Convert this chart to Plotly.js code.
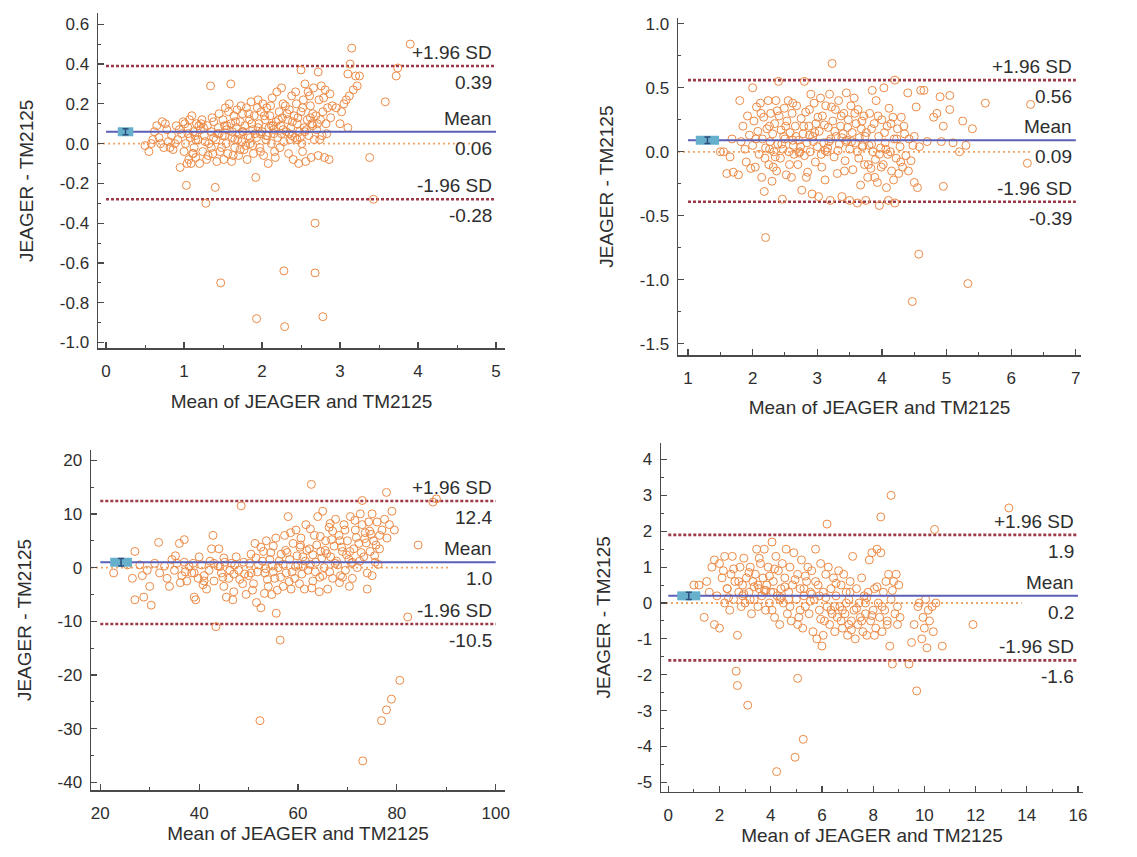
<!DOCTYPE html>
<html>
<head>
<meta charset="utf-8">
<script src="https://cdn.plot.ly/plotly-3.0.1.min.js"></script>
<style>html,body{margin:0;padding:0;background:#fff}#chart{width:1137px;height:857px}</style>
</head>
<body>
<div id="chart"></div>
<script>
// ---------- Data ----------
const xTitle = 'Mean of JEAGER and TM2125';
const yTitle = 'JEAGER - TM2125';
const limitNames = ['+1.96 SD', 'Mean', '-1.96 SD'];

// Panel 1
const p1x = [0.50,0.55,0.58,0.62,0.65,0.68,0.72,0.74,0.78,0.80,0.84,0.86,0.90,0.92,0.95,0.97,0.99,1.00,1.02,1.03,1.05,1.06,1.08,1.09,1.10,1.12,1.13,1.15,1.16,1.18,1.20,1.21,1.23,1.24,1.26,1.28,1.29,1.30,1.32,1.34,1.35,1.37,1.38,1.40,1.41,1.42,1.44,1.45,1.47,1.48,1.49,1.50,1.51,1.53,1.54,1.55,1.56,1.58,1.60,1.60,1.61,1.62,1.64,1.65,1.67,1.68,1.70,1.71,1.72,1.74,1.75,1.77,1.78,1.80,1.81,1.82,1.84,1.85,1.86,1.88,1.89,1.90,1.92,1.93,1.93,1.95,1.96,1.97,1.99,2.00,2.01,2.02,2.04,2.05,2.06,2.08,2.09,2.10,2.12,2.13,2.15,2.16,2.18,2.19,2.20,2.22,2.23,2.24,2.25,2.26,2.28,2.29,2.28,2.30,2.31,2.33,2.34,2.35,2.37,2.38,2.40,2.41,2.42,2.44,2.45,2.47,2.48,2.50,2.50,2.51,2.53,2.54,2.55,2.56,2.58,2.59,2.60,2.62,2.63,2.64,2.66,2.67,2.68,2.68,2.69,2.70,2.72,2.72,2.73,2.75,2.76,2.77,2.78,2.78,2.80,2.81,2.82,2.84,2.86,2.88,2.90,2.95,3.00,3.02,3.05,3.08,3.10,3.10,3.12,3.13,3.15,3.17,3.20,3.22,3.25,3.38,3.43,3.58,3.72,3.74,3.90,
  1.05,1.15,1.25,1.35,1.45,1.55,1.65,1.75,1.85,1.95,2.05,2.15,2.35,2.45,2.55,2.65,1.12,1.38,1.62,1.88,2.12,2.38,2.62,0.88,1.22,1.52,1.72,1.98,2.27,2.52,
  1.07,1.11,1.14,1.19,1.27,1.31,1.36,1.43,1.46,1.52,1.57,1.63,1.66,1.69,1.73,1.76,1.79,1.83,1.87,1.91,1.94,1.98,2.03,2.07,2.11,2.14,2.17,2.21,2.25,2.27,2.32,2.36,2.39,2.43,2.46,2.49,2.52,2.57,2.61,2.65,2.71,2.74,2.79,2.83,2.87,0.76,0.82,0.94,1.01,1.04,0.70,0.60];
const p1y = [-0.01,-0.04,0.00,0.06,0.09,0.03,0.11,-0.02,0.07,0.01,0.04,-0.03,0.09,0.02,-0.12,0.05,0.11,-0.04,0.00,-0.21,0.08,-0.08,0.03,-0.10,0.14,0.06,-0.02,-0.07,0.10,0.02,-0.10,0.07,0.12,-0.04,0.04,-0.30,-0.08,0.09,0.00,0.29,0.06,-0.05,0.11,-0.22,0.02,-0.09,0.08,0.15,-0.70,-0.02,0.04,0.12,-0.08,0.18,0.00,0.07,-0.05,0.20,0.30,0.10,-0.09,0.03,0.14,-0.02,0.08,0.17,-0.06,0.05,0.11,0.01,0.15,-0.03,0.09,0.18,-0.08,0.04,0.12,0.00,0.21,0.07,-0.05,0.14,-0.17,-0.88,0.03,0.22,0.10,-0.02,0.16,0.06,0.20,-0.06,0.12,0.02,0.18,-0.10,0.08,0.14,0.00,0.23,0.05,-0.04,0.11,0.26,0.03,0.16,-0.02,0.09,0.28,0.13,-0.64,-0.92,0.01,0.19,0.06,0.12,-0.05,0.17,0.08,0.24,-0.08,0.14,0.03,0.20,0.10,-0.10,0.06,0.37,0.16,0.00,0.22,0.08,0.30,-0.09,0.12,0.26,0.04,0.19,-0.07,0.10,0.28,0.02,-0.40,-0.65,0.14,0.07,0.36,-0.06,0.22,0.12,0.29,0.04,-0.87,0.16,-0.07,0.27,0.10,0.18,-0.08,0.13,0.19,0.18,0.10,0.16,0.20,0.22,0.08,0.35,0.24,0.40,0.48,0.27,0.34,0.29,0.34,-0.07,-0.28,0.21,0.34,0.38,0.50,
  0.05,0.02,0.08,-0.02,0.05,0.09,0.02,0.06,0.03,0.08,0.04,0.07,0.05,0.02,0.06,0.09,-0.05,0.03,0.06,-0.01,0.09,0.04,0.13,0.00,0.10,0.04,-0.03,0.05,0.07,-0.04,
  0.12,-0.05,0.04,0.09,0.01,-0.06,0.13,0.05,-0.04,0.09,0.16,-0.06,0.11,0.02,0.19,0.06,-0.01,0.15,0.10,0.05,0.18,-0.04,0.14,0.04,0.19,0.09,-0.07,0.12,0.05,0.20,0.15,0.02,0.11,0.26,0.13,0.03,0.18,0.07,0.24,0.15,0.10,0.02,0.23,0.05,0.25,0.10,-0.02,0.07,0.10,-0.10,0.00,0.02];
const p1Limits = [0.39, 0.06, -0.28];
const p1Labels = ['0.39', '0.06', '-0.28'];
const p1YTicks = [-1.0, -0.8, -0.6, -0.4, -0.2, 0.0, 0.2, 0.4, 0.6];
const p1YTickText = ['-1.0', '-0.8', '-0.6', '-0.4', '-0.2', '0.0', '0.2', '0.4', '0.6'];

// Panel 2
const p2x = [1.50,1.55,1.60,1.65,1.68,1.70,1.78,1.80,1.82,1.85,1.88,1.90,1.92,1.95,1.97,2.00,2.00,2.02,2.04,2.06,2.08,2.10,2.12,2.14,2.15,2.17,2.18,2.20,2.20,2.22,2.24,2.25,2.27,2.28,2.30,2.31,2.33,2.34,2.36,2.37,2.39,2.40,2.41,2.43,2.44,2.46,2.47,2.49,2.50,2.52,2.53,2.55,2.56,2.58,2.60,2.61,2.63,2.64,2.66,2.68,2.70,2.71,2.73,2.75,2.76,2.78,2.80,2.80,2.82,2.84,2.85,2.87,2.89,2.90,2.92,2.93,2.95,2.97,2.98,3.00,3.02,3.03,3.05,3.07,3.08,3.10,3.12,3.13,3.15,3.17,3.19,3.20,3.21,3.23,3.24,3.26,3.28,3.29,3.31,3.33,3.34,3.36,3.38,3.40,3.41,3.43,3.45,3.46,3.48,3.50,3.50,3.52,3.54,3.55,3.57,3.59,3.60,3.62,3.63,3.65,3.67,3.68,3.70,3.72,3.73,3.75,3.76,3.78,3.80,3.81,3.83,3.85,3.86,3.88,3.90,3.91,3.93,3.95,3.96,3.98,4.00,4.02,4.03,4.05,4.07,4.08,4.10,4.11,4.13,4.15,4.17,4.19,4.20,4.20,4.22,4.24,4.26,4.28,4.30,4.32,4.35,4.37,4.40,4.42,4.45,4.47,4.50,4.50,4.53,4.55,4.57,4.58,4.60,4.65,4.70,4.80,4.85,4.90,4.92,4.95,4.95,5.05,5.05,5.10,5.20,5.25,5.30,5.33,5.40,5.60,6.25,6.30,
  2.26,2.48,2.72,2.94,3.16,3.38,3.62,3.84,4.06,2.35,2.62,2.88,3.12,3.44,3.70,3.96,
  2.05,2.13,2.19,2.26,2.32,2.38,2.45,2.51,2.57,2.62,2.67,2.74,2.79,2.83,2.88,2.96,3.01,3.06,3.11,3.18,3.22,3.27,3.32,3.37,3.42,3.47,3.53,3.58,3.64,3.69,3.74,3.79,3.84,3.89,3.94,3.99,4.04,4.09,4.14,4.18,4.23,4.29,4.34,4.41,4.48];
const p2y = [0.00,0.00,-0.17,-0.04,0.10,-0.16,-0.18,0.40,0.08,0.20,0.02,-0.08,0.28,0.13,-0.13,0.50,0.05,0.24,-0.12,0.35,0.16,-0.02,0.38,-0.20,0.10,0.27,-0.31,-0.67,0.03,0.18,0.40,-0.10,0.08,0.30,-0.23,0.14,0.00,0.22,0.40,-0.15,0.06,0.55,0.28,-0.05,0.17,-0.37,0.02,0.34,0.10,-0.18,0.24,0.40,0.00,0.15,-0.20,0.30,0.05,-0.02,0.20,0.36,-0.10,0.09,0.00,0.26,-0.30,0.14,0.55,-0.03,0.31,0.07,-0.16,0.20,0.00,0.45,-0.33,0.12,0.38,-0.08,0.22,0.04,-0.35,0.16,0.42,-0.12,0.28,0.07,-0.22,0.36,0.00,0.19,0.45,-0.38,0.10,0.69,0.24,-0.04,0.33,0.12,-0.17,0.40,0.06,0.20,-0.35,0.14,0.30,-0.07,0.46,0.09,0.25,-0.38,0.02,0.36,0.15,-0.14,0.42,0.07,0.22,-0.40,0.33,0.11,-0.26,0.18,0.04,0.28,-0.10,-0.38,0.15,-0.20,0.05,0.30,-0.13,0.48,0.00,0.22,-0.06,0.40,-0.24,0.12,-0.42,0.03,0.25,-0.10,0.50,0.07,-0.28,0.20,-0.38,0.34,0.00,-0.15,0.27,0.10,0.56,-0.40,-0.05,0.18,-0.17,0.04,0.27,-0.12,0.14,-0.03,0.46,0.10,-0.07,-1.17,0.12,-0.24,0.35,-0.28,-0.80,0.04,0.48,0.48,0.08,0.27,0.30,0.43,0.08,0.20,-0.27,0.44,0.33,0.07,0.00,0.24,0.05,-1.03,0.18,0.38,-0.09,0.37,
  0.02,0.12,-0.01,0.08,0.03,0.11,0.00,0.06,0.02,-0.04,0.09,0.13,0.01,0.08,0.05,-0.02,
  0.10,0.30,-0.05,0.20,-0.12,0.32,0.06,0.20,-0.10,0.38,0.12,0.04,0.20,-0.20,0.33,0.15,0.27,-0.02,0.21,0.08,0.35,0.16,0.01,0.28,-0.15,0.19,0.08,0.30,-0.05,0.24,0.12,-0.10,0.18,-0.20,0.28,-0.12,0.15,-0.02,0.22,-0.22,0.10,-0.08,0.20,-0.15,0.05];
const p2Limits = [0.56, 0.09, -0.39];
const p2Labels = ['0.56', '0.09', '-0.39'];
const p2YTicks = [-1.5, -1.0, -0.5, 0.0, 0.5, 1.0];
const p2YTickText = ['-1.5', '-1.0', '-0.5', '0.0', '0.5', '1.0'];

// Panel 3
const p3x = [22.7,25.5,26.5,27.0,27.0,28.0,28.5,28.8,29.5,30.0,30.3,31.0,31.8,32.0,33.0,33.5,34.0,34.5,35.0,35.5,36.0,36.5,37.0,37.5,38.0,38.5,39.0,39.3,39.8,40.0,40.5,41.0,41.5,42.0,42.5,42.8,43.0,43.4,43.8,44.0,44.5,45.0,45.5,46.0,46.5,47.0,47.5,48.0,48.5,48.8,49.0,49.5,50.0,50.5,51.0,51.3,51.6,52.0,52.3,52.5,53.0,53.3,53.6,54.0,54.3,54.7,55.0,55.3,55.6,56.0,56.4,56.6,57.0,57.3,57.6,58.0,58.3,58.6,59.0,59.3,59.6,60.0,60.3,60.6,61.0,61.3,61.6,62.0,62.3,62.7,63.0,63.3,63.6,64.0,64.3,64.6,65.0,65.3,65.6,66.0,66.3,66.6,67.0,67.3,67.6,68.0,68.3,68.6,69.0,69.3,69.6,70.0,70.3,70.6,71.0,71.3,71.6,72.0,72.3,72.6,73.0,73.1,73.3,73.6,74.0,74.0,74.3,74.6,75.0,75.0,75.3,75.6,76.0,76.5,76.9,77.0,77.5,77.9,77.9,78.0,78.5,78.9,79.0,79.5,80.6,82.2,84.3,87.3,88.0,
  44.2,45.2,46.2,47.2,49.2,50.2,51.8,52.8,53.8,54.8,56.2,57.8,58.8,59.8,60.8,61.8,62.5,63.8,64.8,65.8,66.8,67.8,68.8,69.8,70.8,71.8,72.8,73.8,74.8,75.8,76.2,70.4,68.4,66.4,64.4,62.8,60.4,58.2,55.8,53.2,50.8,48.2,46.8,44.8,42.2,40.8,38.8,37.2,36.2,35.2,
  50.5,51.5,52.5,53.5,54.5,55.5,56.5,57.5,58.5,59.5,60.5,61.5,62.5,63.5,64.5,65.5,66.5,67.5,68.5,69.5,70.5,71.5,72.5,73.5,74.5,75.5,76.5,61.0,63.0,65.0,67.0,69.0,71.0,73.0,57.0,55.0,47.0,45.0,43.0,41.0,39.0,37.0];
const p3y = [-1.0,0.5,-2.0,3.0,-6.0,0.5,-1.5,-5.5,-0.5,-3.5,-7.0,0.8,4.7,-1.0,0.3,-2.0,-3.5,1.5,-0.5,0.8,4.5,-1.5,5.2,-2.5,0.2,-1.0,-5.5,-6.0,-2.0,2.0,0.5,-1.5,-4.0,-0.5,3.5,6.0,-2.5,-11.0,0.3,3.5,-1.0,-3.5,-5.5,-2.0,0.8,-4.5,2.0,-0.5,11.5,-3.0,1.0,-5.0,-1.5,2.5,-3.0,4.5,-6.5,0.5,-28.5,-7.5,3.0,-1.0,5.0,-3.5,1.5,-5.0,4.0,-2.0,-8.5,0.0,-13.5,2.5,-3.5,6.0,-1.0,9.5,1.5,-4.0,4.5,-2.0,7.0,0.5,-3.0,5.5,2.0,-4.0,8.0,-0.5,3.5,15.5,-2.5,6.0,1.0,9.5,-4.5,3.0,10.5,0.0,5.0,-4.0,7.5,2.0,-2.0,4.0,9.0,0.5,6.0,-1.5,3.0,8.0,-0.5,5.0,1.5,9.5,-2.0,3.5,7.0,0.0,4.5,10.0,12.5,-36.0,2.0,6.5,-1.0,-4.0,8.5,3.0,10.0,-1.5,5.0,1.0,8.5,3.5,-28.5,7.0,9.0,-26.5,14.0,5.5,8.0,-24.5,10.5,7.0,-21.0,-9.2,4.2,12.2,12.8,
  0.2,1.0,-0.5,0.5,-1.2,0.8,-0.8,1.2,-2.2,0.3,1.2,2.8,-0.8,2.2,-1.2,3.2,0.6,4.2,1.8,2.6,5.2,1.2,3.8,2.4,0.8,5.6,2.8,4.6,6.2,4.2,0.6,-3.5,-2.8,-0.8,-1.8,-3.8,3.8,-2.6,-4.2,-4.8,-4.2,-2.2,-6.0,-1.8,1.2,-3.2,0.8,-0.8,-2.8,2.2,
  -1.0,1.8,3.8,-0.2,2.8,5.5,-1.8,3.2,6.5,0.2,4.2,1.2,7.2,-0.8,5.8,3.2,8.2,0.8,5.0,7.0,3.0,8.8,1.2,5.4,6.8,2.2,6.0,0.2,2.4,-1.5,6.8,-1.8,1.0,8.0,0.6,-0.8,-1.2,1.8,0.8,-2.5,-1.0,1.0];
const p3Limits = [12.4, 1.0, -10.5];
const p3Labels = ['12.4', '1.0', '-10.5'];
const p3YTicks = [-40, -30, -20, -10, 0, 10, 20];
const p3YTickText = ['-40', '-30', '-20', '-10', '0', '10', '20'];

// Panel 4
const p4x = [1.0,1.2,1.4,1.5,1.6,1.7,1.8,1.8,1.9,2.0,2.0,2.1,2.2,2.2,2.3,2.4,2.45,2.5,2.55,2.6,2.65,2.7,2.7,2.75,2.8,2.85,2.9,2.95,3.0,3.05,3.1,3.15,3.2,3.25,3.3,3.35,3.4,3.45,3.5,3.55,3.6,3.65,3.7,3.75,3.8,3.85,3.9,3.95,4.0,4.05,4.1,4.15,4.2,4.23,4.25,4.3,4.35,4.4,4.45,4.5,4.55,4.6,4.65,4.7,4.75,4.8,4.85,4.9,4.95,5.0,5.05,5.05,5.1,5.15,5.2,5.25,5.27,5.3,5.35,5.4,5.45,5.5,5.55,5.6,5.65,5.7,5.75,5.8,5.85,5.9,5.95,6.0,6.05,6.1,6.15,6.2,6.2,6.25,6.3,6.35,6.4,6.45,6.5,6.55,6.6,6.65,6.7,6.75,6.8,6.85,6.9,6.95,7.0,7.05,7.1,7.15,7.2,7.25,7.3,7.35,7.4,7.45,7.5,7.55,7.6,7.65,7.7,7.75,7.8,7.85,7.9,7.95,8.0,8.05,8.1,8.15,8.2,8.25,8.3,8.3,8.35,8.4,8.45,8.5,8.55,8.6,8.65,8.7,8.7,8.75,8.8,8.85,8.9,8.95,9.0,9.05,9.4,9.5,9.6,9.7,9.75,9.8,9.9,9.95,10.0,10.05,10.1,10.15,10.2,10.3,10.35,10.4,10.45,10.7,11.9,13.3,
  2.3,2.9,3.5,4.1,4.7,5.3,5.9,6.5,7.1,7.7,3.2,3.8,4.4,5.6,6.8,
  2.15,2.35,2.55,2.75,2.95,3.15,3.35,3.55,3.75,3.95,4.15,4.35,4.55,4.75,4.95,5.15,5.35,5.55,5.75,5.95,6.15,6.35,6.55,6.75,6.95,7.15,7.35,7.55,7.75,7.95,8.15,8.35,8.55,8.75,8.95,4.05,5.05,6.05,7.05,8.05];
const p4y = [0.5,0.5,-0.4,0.6,0.3,1.0,-0.6,1.2,0.2,1.1,-0.7,0.7,0.0,1.3,0.4,-0.2,0.8,1.3,0.1,0.6,-1.9,-0.9,-2.3,0.3,1.0,-0.1,0.5,1.25,0.0,0.7,-2.85,0.3,1.0,-0.3,0.6,0.1,0.8,1.5,-0.1,0.4,1.1,0.2,0.7,1.5,-0.2,0.5,1.0,0.0,0.3,1.7,0.6,-0.4,1.3,-4.7,0.2,0.9,-0.6,0.4,1.1,0.0,0.7,1.5,-0.3,0.3,1.0,-0.5,0.5,1.4,-4.3,0.1,-2.1,0.8,-0.4,0.4,1.2,-0.7,-3.8,0.2,-0.1,0.6,1.0,-0.3,0.3,0.9,-0.8,0.1,1.5,-1.0,0.5,-0.2,1.1,-1.2,0.3,-0.5,0.8,2.2,-0.1,1.0,-0.6,0.4,-0.3,0.7,-0.8,0.2,-0.4,0.9,-0.1,0.5,-0.7,0.8,-0.3,0.3,-0.9,0.1,0.6,-0.5,1.3,-0.2,-1.0,0.4,-0.6,0.0,-0.4,0.7,-0.8,0.2,-0.3,-0.9,0.3,1.2,-0.5,1.4,-0.2,0.4,-0.7,1.5,0.0,-0.4,2.4,1.4,-0.8,0.3,-0.2,0.6,-0.5,0.8,-1.2,3.0,0.1,-1.7,0.6,-0.3,0.8,-0.6,0.5,-0.4,-1.7,-1.1,-0.6,-2.45,-0.1,0.0,-1.0,-0.4,-0.7,0.1,-1.25,-0.2,-0.5,-0.1,-0.8,2.05,0.0,-1.2,-0.6,2.65,
  0.4,0.2,0.5,0.3,0.1,0.4,0.2,-0.1,0.3,0.0,0.1,0.35,0.15,0.25,-0.2,
  0.9,0.15,0.95,0.6,0.25,0.85,0.45,1.25,0.35,0.75,0.95,0.1,0.45,-0.1,0.65,-0.2,0.75,0.05,0.6,-0.45,0.15,-0.2,0.55,-0.5,0.0,-0.75,-0.15,-0.5,0.15,-0.35,0.45,-0.1,-0.6,0.35,-0.1,-0.2,-0.6,-0.9,-0.6,-0.9];
const p4Limits = [1.9, 0.2, -1.6];
const p4Labels = ['1.9', '0.2', '-1.6'];
const p4YTicks = [-5, -4, -3, -2, -1, 0, 1, 2, 3, 4];
const p4YTickText = ['-5', '-4', '-3', '-2', '-1', '0', '1', '2', '3', '4'];

// Mean confidence-interval box (centre x, half-width, CI half-height)
const ciCentre = [0.25, 1.3, 24.2, 0.8];
const ciHalfWidth = [0.1, 0.18, 2.2, 0.45];
const ciHalfHeight = [0.015, 0.025, 0.7, 0.1];

// Line extents per panel
const lineStart = [0, 1, 20, 0];
const lineEnd = [5, 7, 100, 16];
const zeroEnd = [4.9, 6.3, 91, 13.8];

// ---------- Layout geometry ----------
const W = 1137, H = 857;
const panelsPx = [ // left, right, top, bottom (px)
  [98, 505, 13.3, 348.3],
  [678, 1081, 18.3, 355],
  [91, 505, 450, 790],
  [661, 1083, 443, 791.7]
];
const xRanges = [[-0.103, 5.115], [0.845, 7.08], [18.12, 101.88], [-0.285, 16.195]];
const yRanges = [[-1.029, 0.655], [-1.588, 1.043], [-41.42, 21.9], [-5.26, 4.46]];
const xDtick = [1, 1, 20, 2], xMinor = [0.5, 0.5, 10, 1];
const yMinor = [0.1, 0.25, 5, 0.5];
const xTitleStandoff = [14, 14, 0, 0];

const allX = [p1x, p2x, p3x, p4x], allY = [p1y, p2y, p3y, p4y];
const allLim = [p1Limits, p2Limits, p3Limits, p4Limits];
const allLab = [p1Labels, p2Labels, p3Labels, p4Labels];
const allYTicks = [p1YTicks, p2YTicks, p3YTicks, p4YTicks];
const allYTickText = [p1YTickText, p2YTickText, p3YTickText, p4YTickText];

const FONT = 'Liberation Sans, Arial, Helvetica, sans-serif';
const axisCol = '#4a4a4a', textCol = '#2e2e2e';
const ptCol = '#ec8a45', sdCol = '#9c3b47', meanCol = '#5b5fb8', zeroCol = '#f0a465', ciCol = '#66b0cc';

const traces = [], annotations = [];
const layout = {
  width: W, height: H, margin: {l: 0, r: 0, t: 0, b: 0},
  paper_bgcolor: '#fff', plot_bgcolor: '#fff', showlegend: false,
  font: {family: FONT, color: textCol},
  annotations: annotations
};

for (let i = 0; i < 4; i++) {
  const sfx = i === 0 ? '' : String(i + 1);
  const xa = 'x' + sfx, ya = 'y' + sfx;
  const [l, r, t, b] = panelsPx[i];
  layout['xaxis' + sfx] = {
    domain: [l / W, r / W], range: xRanges[i], anchor: ya,
    showline: true, linecolor: axisCol, linewidth: 1.5, showgrid: false, zeroline: false,
    ticks: 'inside', ticklen: 6, tickwidth: 1.2, tickcolor: axisCol, dtick: xDtick[i], tick0: 0,
    minor: {ticks: 'inside', ticklen: 3, tickwidth: 1, tickcolor: axisCol, dtick: xMinor[i], tick0: 0},
    ticklabelstandoff: 7,
    tickfont: {size: 17, color: textCol, family: FONT},
    title: {text: xTitle, font: {size: 19, color: textCol, family: FONT}, standoff: xTitleStandoff[i]},
    fixedrange: true
  };
  layout['yaxis' + sfx] = {
    domain: [1 - b / H, 1 - t / H], range: yRanges[i], anchor: xa,
    showline: true, linecolor: axisCol, linewidth: 1.5, showgrid: false, zeroline: false,
    ticks: 'inside', ticklen: 6, tickwidth: 1.2, tickcolor: axisCol,
    tickmode: 'array', tickvals: allYTicks[i], ticktext: allYTickText[i],
    minor: {ticks: 'inside', ticklen: 3, tickwidth: 1, tickcolor: axisCol, tickmode: 'linear', dtick: yMinor[i], tick0: 0},
    ticklabelstandoff: 4,
    tickfont: {size: 17, color: textCol, family: FONT},
    title: {text: yTitle, font: {size: 19, color: textCol, family: FONT}, standoff: 21},
    fixedrange: true
  };

  const lim = allLim[i];
  traces.push({x: [xRanges[i][0], zeroEnd[i]], y: [0, 0], xaxis: xa, yaxis: ya, mode: 'lines',
    line: {color: zeroCol, width: 1.8, dash: '2px,3px'}, hoverinfo: 'skip'});
  [0, 2].forEach(k => traces.push({x: [lineStart[i], lineEnd[i]], y: [lim[k], lim[k]], xaxis: xa, yaxis: ya,
    mode: 'lines', line: {color: sdCol, width: 2.6, dash: '3px,2px'}, hoverinfo: 'skip'}));
  traces.push({x: allX[i], y: allY[i], xaxis: xa, yaxis: ya, mode: 'markers',
    marker: {symbol: 'circle-open', size: 8, color: ptCol, line: {width: 1, color: ptCol}}});
  traces.push({x: [lineStart[i], lineEnd[i]], y: [lim[1], lim[1]], xaxis: xa, yaxis: ya, mode: 'lines',
    line: {color: meanCol, width: 2}, hoverinfo: 'skip'});
  traces.push({x: [ciCentre[i] - ciHalfWidth[i], ciCentre[i] + ciHalfWidth[i]], y: [lim[1], lim[1]],
    xaxis: xa, yaxis: ya, mode: 'lines', line: {color: ciCol, width: 9}, hoverinfo: 'skip'});
  traces.push({x: [ciCentre[i]], y: [lim[1]], xaxis: xa, yaxis: ya, mode: 'markers',
    marker: {size: 1, color: '#2f4f7f'},
    error_y: {type: 'data', array: [ciHalfHeight[i]], color: '#2f4f7f', thickness: 1.5, width: 3}, hoverinfo: 'skip'});

  for (let k = 0; k < 3; k++) {
    annotations.push({xref: xa, yref: ya, x: lineEnd[i], y: lim[k], xanchor: 'right', yanchor: 'bottom',
      text: limitNames[k], showarrow: false, font: {size: 19, color: textCol, family: FONT}, yshift: 1, xshift: -2});
    annotations.push({xref: xa, yref: ya, x: lineEnd[i], y: lim[k], xanchor: 'right', yanchor: 'top',
      text: allLab[i][k], showarrow: false, font: {size: 19, color: textCol, family: FONT}, yshift: -4, xshift: -2});
  }
}

Plotly.newPlot('chart', traces, layout, {displayModeBar: false, staticPlot: true});
</script>
</body>
</html>
